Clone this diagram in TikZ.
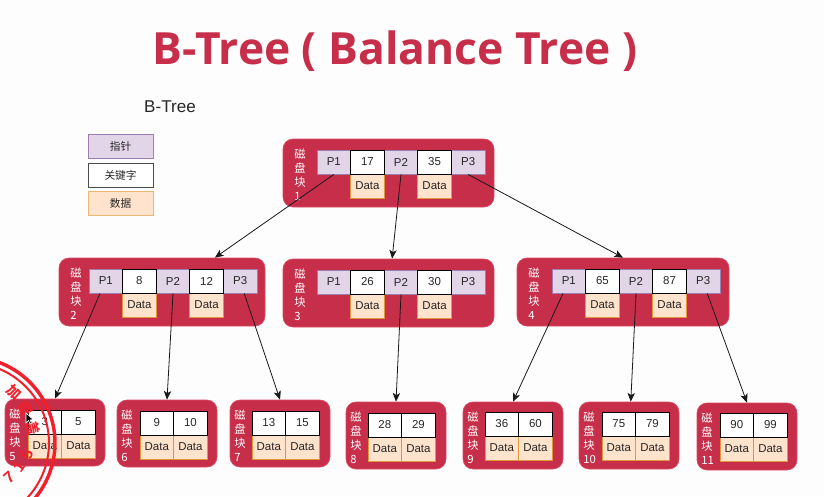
\documentclass[tikz,border=0pt]{standalone}
\usepackage{fontspec}
\usetikzlibrary{arrows.meta}
\setmainfont{Liberation Sans}
\newfontfamily\cjk{Noto Sans CJK SC}
\newfontfamily\headfont{Open Sans}
\definecolor{pagebg}{HTML}{FDFDFD}
\definecolor{diskred}{HTML}{C72E49}
\definecolor{diskedge}{HTML}{D84A65}
\definecolor{ptrfill}{HTML}{E1D5E7}
\definecolor{ptredge}{HTML}{9A7FB0}
\definecolor{datafill}{HTML}{FFE3CC}
\definecolor{dataedge}{HTML}{E0973A}
\definecolor{sealred}{HTML}{F2202C}
\tikzset{
  diskbox/.style={fill=diskred,draw=diskedge,line width=.5pt,rounded corners=7.5pt,inner sep=0pt},
  cellbase/.style={inner sep=0pt,minimum width=25.2pt,minimum height=18pt,font=\fontsize{8.6pt}{10pt}\selectfont,text=black!85},
  ptrcell/.style={cellbase,fill=ptrfill,draw=ptredge,line width=.7pt},
  keycell/.style={cellbase,fill=white,draw=black,line width=.7pt},
  datacell/.style={cellbase,fill=datafill,draw=dataedge,line width=.75pt},
  disklabel/.style={anchor=north west,inner sep=0pt,align=left,text=white,font=\cjk\fontsize{8.5pt}{10.3pt}\selectfont},
  legendbox/.style={inner sep=0pt,minimum width=48.75pt,minimum height=18pt,font=\cjk\fontsize{8pt}{9pt}\selectfont,text=black!85},
  link/.style={draw=black!90,line width=.6pt,-{Stealth[length=6.5pt,width=5.5pt,inset=1.6pt]}},
  sealtext/.style={text=sealred,inner sep=0pt},
  sealchar/.style={sealtext,font=\cjk\bfseries\fontsize{10.5pt}{12pt}\selectfont},
  sealdigit/.style={sealtext,font=\bfseries\fontsize{12pt}{14pt}\selectfont}
}
% Inner disk block: id, left, top, width, first cell x, cell top, label, two keys
\newcommand{\innerblock}[9]{
  \node[diskbox,minimum width=#4*.75pt,minimum height=51pt] (#1) at ({#2+#4/2},{#3+34}) {};
  \node[disklabel] (#1-l) at ({#2+11},{#3+10}) {磁\\盘\\块\\#7};
  \node[ptrcell] (#1-p1) at ({#5+16.8},{#6+12}) {P1};
  \node[ptrcell] (#1-p2) at ({#5+84},{#6+12}) {P2};
  \node[ptrcell] (#1-p3) at ({#5+151.2},{#6+12}) {P3};
  \node[datacell] (#1-d1) at ({#5+50.4},{#6+36}) {Data};
  \node[datacell] (#1-d2) at ({#5+117.6},{#6+36}) {Data};
  \node[keycell] (#1-k1) at ({#5+50.4},{#6+12}) {#8};
  \node[keycell] (#1-k2) at ({#5+117.6},{#6+12}) {#9};
}
% Leaf disk block: id, left, top, first cell x, cell top, label, two keys
\newcommand{\leafblock}[8]{
  \node[diskbox,minimum width=75pt,minimum height=50.25pt] (#1) at ({#2+50},{#3+33.5}) {};
  \node[disklabel] (#1-l) at ({#2+4},{#3+10}) {磁\\盘\\块\\#6};
  \node[datacell] (#1-d1) at ({#4+16.8},{#5+36}) {Data};
  \node[datacell] (#1-d2) at ({#4+50.4},{#5+36}) {Data};
  \node[keycell] (#1-k1) at ({#4+16.8},{#5+12}) {#7};
  \node[keycell] (#1-k2) at ({#4+50.4},{#5+12}) {#8};
}
\begin{document}
\begin{tikzpicture}[x=.75pt,y=-.75pt]
\useasboundingbox (0,0) rectangle (824,496);
\fill[pagebg] (0,0) rectangle (824,496);

% Headings
\node[inner sep=0pt,text=diskred,font=\headfont\bfseries\fontsize{33.3pt}{40pt}\selectfont] (title) at (395,51) {B-Tree ( Balance Tree )};
\node[inner sep=0pt,font=\fontsize{12.8pt}{14pt}\selectfont,text=black!85] (sub) at (170,107) {B-Tree};

% Legend
\node[legendbox,fill=ptrfill,draw=ptredge,line width=.7pt] (lg1) at (120.5,146.5) {指针};
\node[legendbox,fill=white,draw=black!70,line width=.75pt] (lg2) at (120.5,175) {关键字};
\node[legendbox,fill=datafill,draw=dataedge!70,line width=.7pt] (lg3) at (120.5,203.5) {数据};

% Disk blocks
\innerblock{b1}{283}{139}{211}{317}{150}{1}{17}{35}
\innerblock{b2}{59}{258}{206}{89}{269}{2}{8}{12}
\innerblock{b3}{283}{259}{211}{317}{270}{3}{26}{30}
\innerblock{b4}{517}{258}{212}{552}{269}{4}{65}{87}
\leafblock{b5}{5}{399}{28}{410}{5}{3}{5}
\leafblock{b6}{117}{400}{140}{411}{6}{9}{10}
\leafblock{b7}{230}{400}{252}{411}{7}{13}{15}
\leafblock{b8}{346}{402}{368}{413}{8}{28}{29}
\leafblock{b9}{463}{402}{485}{412}{9}{36}{60}
\leafblock{b10}{579}{402}{602}{412}{10}{75}{79}
\leafblock{b11}{697}{403}{720}{413}{11}{90}{99}

% Pointers between blocks
\draw[link] (b1-p1.south) -- (b2.33.7);
\draw[link] (b1-p2.south) -- (b3.84);
\draw[link] (b1-p3.south) -- (b4.north);
\draw[link] (b2-p1.245) -- (b5.north);
\draw[link] (b2-p2.south) -- (b6.north);
\draw[link] (b2-p3.288) -- (b7.north);
\draw[link] (b3-p2.south) -- (b8.north);
\draw[link] (b4-p1.245) -- (b9.north);
\draw[link] (b4-p2.south) -- (b10.87);
\draw[link] (b4-p3.288) -- (b11.north);

% Round seal in the lower left corner
\begin{scope}
\clip (0,0) rectangle (824,496);
\draw[sealred,line width=2.6pt] (-31,443) circle (86);
\draw[sealred,line width=1.5pt] (-31,443) circle (80);
\node[sealchar,rotate=-42] (s1) at (14,392) {加};
\node[sealchar,rotate=-59] (s2) at (26,409) {密};
\node[sealchar,rotate=-77] (s3) at (33,428) {盖};
\node[sealdigit,rotate=75] (s4) at (27,455) {5};
\node[sealdigit,rotate=55] (s5) at (19,467) {1};
\node[sealdigit,rotate=41] (s6) at (9,477) {7};
\end{scope}

% Mouse pointer
\fill[black,draw=white,line width=.4pt] (26,413) -- (26,423) -- (28.5,420.5) -- (30,424) -- (31.5,423.2) -- (30,420) -- (33,419.5) -- cycle;
\end{tikzpicture}
\end{document}
